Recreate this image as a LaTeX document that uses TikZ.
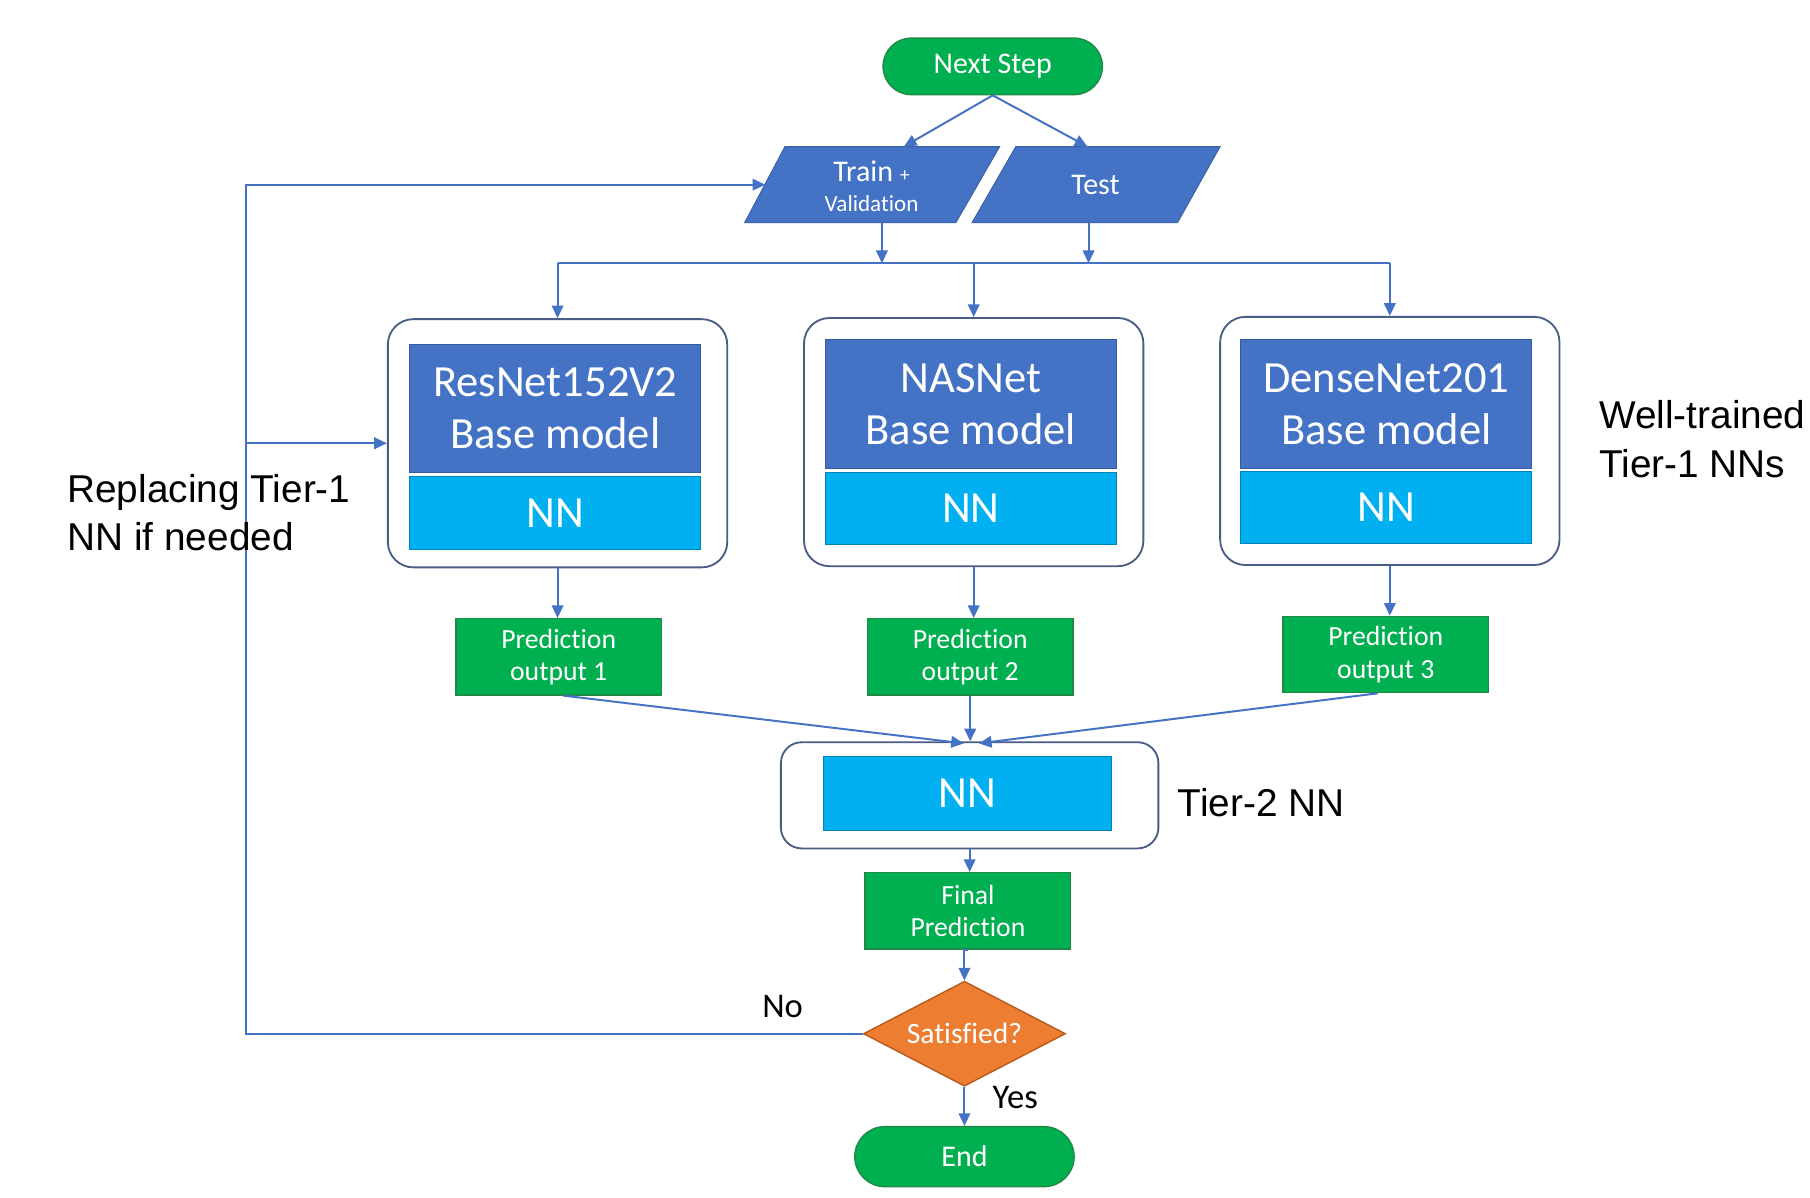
\documentclass[tikz,border=0pt]{standalone}
\usepackage{fontspec}
\setmainfont{Carlito}[Ligatures=NoCommon]
\newfontfamily\arialfont{Liberation Sans}
\usetikzlibrary{arrows.meta,calc,shapes.geometric}
\definecolor{dblue}{HTML}{4472C4}
\definecolor{lblue}{HTML}{00B0F0}
\definecolor{fgreen}{HTML}{00B050}
\definecolor{bgreen}{HTML}{1F8A46}
\definecolor{forange}{HTML}{ED7D31}
\definecolor{borange}{HTML}{B85A1C}
\definecolor{contline}{HTML}{4A5D86}
\definecolor{lineblue}{HTML}{4472C4}
\begin{document}
\begin{tikzpicture}[x=0.5pt,y=-0.5pt,
 arr/.style={draw=lineblue, line width=0.85pt, -{Triangle[length=5.5pt,width=5pt]}},
 plainline/.style={draw=lineblue, line width=0.85pt},
 term/.style={fill=fgreen, draw=bgreen, line width=0.6pt, text=white, minimum width=95pt, minimum height=24.5pt, rounded corners=12.2pt, inner sep=0pt, font=\fontsize{13}{15}\selectfont},
 gbox/.style={fill=fgreen, draw=bgreen, line width=0.6pt, text=white, minimum width=89pt, minimum height=33pt, inner sep=0pt, align=center, font=\fontsize{12}{14}\selectfont},
 container/.style={draw=contline, line width=0.8pt, fill=white, rounded corners=11pt, minimum width=147pt, minimum height=107.5pt, inner sep=0pt},
 basebox/.style={fill=dblue, draw=dblue!80!black, line width=0.4pt, text=white, minimum width=126pt, minimum height=55.5pt, inner sep=0pt, align=center, font=\fontsize{19.3}{22.5}\selectfont},
 nnbox/.style={fill=lblue, draw=lblue!75!black, line width=0.4pt, text=white, minimum width=126pt, minimum height=31.5pt, inner sep=0pt, font=\fontsize{19.3}{22.5}\selectfont},
 para/.style={fill=dblue, draw=dblue!85!black, line width=0.4pt},
 whitetext/.style={text=white, inner sep=0pt},
 sidetext/.style={inner sep=0pt, align=left, text=black, font=\arialfont\fontsize{16.8}{21}\selectfont},
 yn/.style={inner sep=0pt, text=black, font=\fontsize{15}{17}\selectfont}
]
\useasboundingbox[fill=white] (0,0) rectangle (1568,1037);

% ---- top
\node[term] (ns) at (860,57.5) {Next Step};
\path[para] (680,127) -- (866,127) -- (828,193) -- (645,193) -- cycle;
\path[para] (880,127) -- (1057,127) -- (1020,193) -- (842,193) -- cycle;
\node[whitetext, font=\fontsize{13}{15}\selectfont] (trainlbl) at (755,148) {Train {\fontsize{8.5}{10}\selectfont +}};
\node[whitetext, font=\fontsize{10}{12}\selectfont] (vallbl) at (755,176) {Validation};
\node[whitetext, font=\fontsize{13}{15}\selectfont] (test) at (949,160) {Test};

\coordinate (trT) at (783,127);
\coordinate (teT) at (942,127);
\coordinate (trB) at (764,193);
\coordinate (teB) at (943,193);
\coordinate (trL) at (663,160);
\coordinate (busL) at (483,228);
\coordinate (busR) at (1204,228);
\coordinate (busA) at (764,228);
\coordinate (busB) at (943,228);
\coordinate (busM) at (843.5,228);
\coordinate (loopT) at (213,160);
\coordinate (loopM) at (213,384);

% ---- tier-1
\node[container] (res) at (483,384) {};
\node[container] (nas) at (843.5,383) {};
\node[container] (dense) at (1204,382) {};
\node[basebox] (resb) at (481,353.5) {ResNet152V2\\Base model};
\node[nnbox] (resn) at (481,444.5) {NN};
\node[basebox] (nasb) at (841,350) {NASNet\\Base model};
\node[nnbox] (nasn) at (841,440.5) {NN};
\node[basebox] (denb) at (1201,350) {DenseNet201\\Base model};
\node[nnbox] (denn) at (1201,439.5) {NN};

% ---- predictions
\node[gbox] (p1) at (484,569) {Prediction\\output 1};
\node[gbox] (p2) at (840.5,569) {Prediction\\output 2};
\node[gbox] (p3) at (1200.5,567) {Prediction\\output 3};

% ---- tier-2
\node[container, rounded corners=9pt, minimum width=163.5pt, minimum height=46pt] (t2) at (840,689) {};
\node[nnbox, minimum width=125pt, minimum height=32pt] (t2n) at (838,687.5) {NN};
\coordinate (t2a) at (835,644);
\coordinate (t2c) at (848,644);

\node[gbox] (fin) at (838.5,789) {Final\\Prediction};
\node[diamond, aspect=1.9, fill=forange, draw=borange, line width=0.6pt, minimum width=87.5pt, minimum height=45.5pt, inner sep=0pt, text=white, font=\fontsize{12.8}{15}\selectfont] (dia) at (835.5,895.5) {Satisfied?};
\node[term, minimum height=26pt, rounded corners=13pt] (end) at (835.5,1002) {End};

% ---- connectors
\draw[arr] (ns.south) -- (trT);
\draw[arr] (ns.south) -- (teT);
\draw[arr] (trB) -- (busA);
\draw[arr] (teB) -- (busB);
\draw[plainline] (busL) -- (busR);
\draw[arr] (busL) -- (res.north);
\draw[arr] (busM) -- (nas.north);
\draw[arr] (busR) -- (dense.north);
\draw[arr] (res.south) -- (res.south |- p1.north);
\draw[arr] (nas.south) -- (nas.south |- p2.north);
\draw[arr] (dense.south) -- (dense.south |- p3.north);
\draw[arr] ($(p1.south)+(4,0)$) -- (t2a);
\draw[arr] (p2.south) -- (p2.south |- t2.north);
\draw[arr] ($(p3.south)+(-7,0)$) -- (t2c);
\draw[arr] (t2.south) -- (t2.south |- fin.north);
\draw[arr] (fin.south) -- (fin.south -| dia.north) -- (dia.north);
\draw[arr] (dia.south) -- (end.north);
\draw[arr] (dia.west) -| (loopT) -- (trL);
\draw[arr] (loopM) -- (res.west);

% ---- labels
\node[sidetext, anchor=west] (repl) at (58,444) {Replacing Tier-1\\NN if needed};
\node[sidetext, anchor=west] (well) at (1385,380.5) {Well-trained\\Tier-1 NNs};
\node[sidetext, anchor=west] (tier2) at (1020,695) {Tier-2 NN};
\node[yn] (no) at (678,871.5) {No};
\node[yn] (yes) at (879.5,951) {Yes};
\end{tikzpicture}
\end{document}
